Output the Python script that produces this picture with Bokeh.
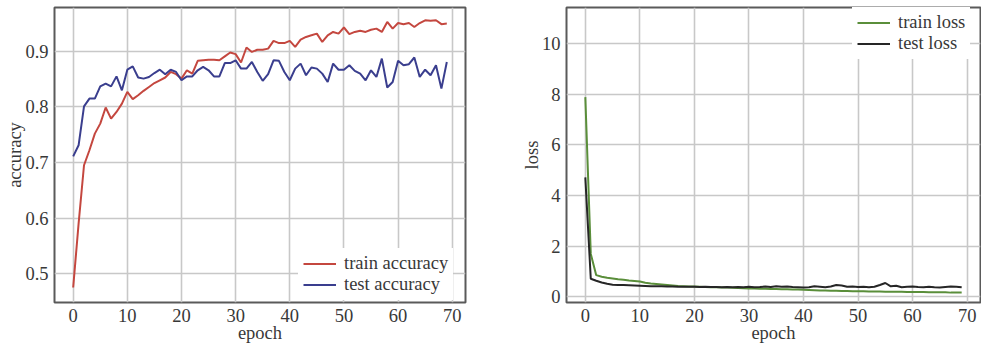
from bokeh.plotting import figure
from bokeh.layouts import row
from bokeh.models import Range1d, FixedTicker
from bokeh.embed import file_html
from bokeh.resources import INLINE

epochs = list(range(70))

train_acc = [0.475, 0.59, 0.695, 0.722, 0.752, 0.770, 0.799, 0.779, 0.791, 0.806,
             0.827, 0.814, 0.821, 0.829, 0.836, 0.843, 0.848, 0.853, 0.863, 0.859,
             0.851, 0.866, 0.860, 0.883, 0.884, 0.885, 0.885, 0.884, 0.891, 0.898,
             0.895, 0.880, 0.907, 0.899, 0.903, 0.903, 0.905, 0.919, 0.915, 0.915,
             0.919, 0.908, 0.921, 0.926, 0.929, 0.932, 0.917, 0.929, 0.935, 0.932,
             0.943, 0.931, 0.935, 0.937, 0.935, 0.939, 0.941, 0.935, 0.953, 0.941,
             0.951, 0.949, 0.951, 0.944, 0.951, 0.956, 0.955, 0.956, 0.949, 0.950]

test_acc = [0.711, 0.731, 0.801, 0.815, 0.815, 0.837, 0.842, 0.837, 0.855, 0.830,
            0.867, 0.873, 0.853, 0.851, 0.854, 0.861, 0.867, 0.859, 0.867, 0.863,
            0.848, 0.855, 0.855, 0.866, 0.872, 0.866, 0.855, 0.855, 0.879, 0.879,
            0.884, 0.869, 0.869, 0.881, 0.863, 0.847, 0.859, 0.884, 0.883, 0.863,
            0.848, 0.869, 0.878, 0.857, 0.871, 0.869, 0.860, 0.845, 0.878, 0.867,
            0.867, 0.875, 0.865, 0.860, 0.848, 0.866, 0.854, 0.887, 0.835, 0.845,
            0.883, 0.875, 0.877, 0.889, 0.854, 0.867, 0.857, 0.875, 0.833, 0.881]

train_loss = [7.89, 1.70, 0.86, 0.80, 0.76, 0.73, 0.70, 0.68, 0.65, 0.63,
              0.61, 0.56, 0.53, 0.51, 0.49, 0.47, 0.45, 0.43, 0.42, 0.41,
              0.41, 0.40, 0.39, 0.38, 0.38, 0.37, 0.37, 0.36, 0.35, 0.34,
              0.33, 0.33, 0.32, 0.32, 0.31, 0.31, 0.30, 0.30, 0.29, 0.29,
              0.28, 0.27, 0.26, 0.25, 0.25, 0.24, 0.24, 0.23, 0.23, 0.22,
              0.22, 0.22, 0.21, 0.21, 0.21, 0.20, 0.20, 0.20, 0.20, 0.19,
              0.19, 0.19, 0.19, 0.18, 0.18, 0.18, 0.18, 0.17, 0.17, 0.17]

test_loss = [4.72, 0.72, 0.64, 0.57, 0.52, 0.48, 0.47, 0.47, 0.46, 0.45,
             0.44, 0.43, 0.42, 0.42, 0.42, 0.41, 0.41, 0.40, 0.40, 0.40,
             0.40, 0.39, 0.40, 0.39, 0.39, 0.38, 0.39, 0.38, 0.39, 0.38,
             0.40, 0.38, 0.39, 0.41, 0.39, 0.42, 0.40, 0.41, 0.39, 0.38,
             0.37, 0.38, 0.42, 0.40, 0.38, 0.41, 0.47, 0.45, 0.40, 0.41,
             0.39, 0.40, 0.38, 0.40, 0.47, 0.55, 0.42, 0.44, 0.38, 0.40,
             0.41, 0.39, 0.38, 0.40, 0.38, 0.37, 0.39, 0.41, 0.40, 0.38]

x_ticks = [0, 10, 20, 30, 40, 50, 60, 70]
acc_ticks = [0.5, 0.6, 0.7, 0.8, 0.9]
loss_ticks = [0, 2, 4, 6, 8, 10]

FONT = "Liberation Serif"
FS = "18.5px"
GRID = "#c8c8c8"
FRAME = "#5a5a5a"


def style(p, xlabel, ylabel, xt, yt):
    p.outline_line_color = FRAME
    p.outline_line_width = 2
    p.background_fill_color = "white"
    p.border_fill_color = "white"
    for g in (p.xgrid[0], p.ygrid[0]):
        g.grid_line_color = GRID
        g.grid_line_width = 1.6
    p.xaxis.ticker = FixedTicker(ticks=xt)
    p.yaxis.ticker = FixedTicker(ticks=yt)
    p.xgrid.ticker = FixedTicker(ticks=xt)
    p.ygrid.ticker = FixedTicker(ticks=yt)
    for ax in (p.xaxis[0], p.yaxis[0]):
        ax.axis_line_color = None
        ax.major_tick_line_color = None
        ax.minor_tick_line_color = None
        ax.major_tick_out = 0
        ax.major_tick_in = 0
        ax.major_label_text_font = FONT
        ax.major_label_text_font_size = FS
        ax.major_label_text_color = "#383838"
        ax.axis_label_text_font = FONT
        ax.axis_label_text_font_size = FS
        ax.axis_label_text_font_style = "normal"
        ax.axis_label_text_color = "#383838"
    p.xaxis.axis_label = xlabel
    p.yaxis.axis_label = ylabel
    p.xaxis.major_label_standoff = 6
    p.xaxis.axis_label_standoff = -2
    p.yaxis.major_label_standoff = 6
    p.yaxis.axis_label_standoff = -3


def style_legend(p, loc):
    lg = p.legend[0]
    lg.location = loc
    lg.label_text_font = FONT
    lg.label_text_font_size = FS
    lg.label_text_color = "#383838"
    lg.glyph_width = 33
    lg.glyph_height = 21
    lg.label_height = 21
    lg.label_standoff = 8
    lg.spacing = 0
    lg.padding = 5
    lg.margin = 0
    lg.border_line_alpha = 0
    lg.background_fill_color = "white"
    lg.background_fill_alpha = 1.0


p1 = figure(width=490, height=345, output_backend="svg", toolbar_location=None,
            x_range=Range1d(-3.45, 72.45), y_range=Range1d(0.448, 0.979),
            min_border_left=54, min_border_right=25, min_border_top=7, min_border_bottom=43)
p1.line(epochs, train_acc, line_color="#c4473f", line_width=2, legend_label="train accuracy")
p1.line(epochs, test_acc, line_color="#3a3e8e", line_width=2, legend_label="test accuracy")
style(p1, "epoch", "accuracy", x_ticks, acc_ticks)
style_legend(p1, (244, 2))

p2 = figure(width=491, height=345, output_backend="svg", toolbar_location=None,
            x_range=Range1d(-3.45, 72.45), y_range=Range1d(-0.22, 11.43),
            min_border_left=76, min_border_right=1, min_border_top=7, min_border_bottom=43)
p2.line(epochs, train_loss, line_color="#5a8e3a", line_width=2, legend_label="train loss")
p2.line(epochs, test_loss, line_color="#262626", line_width=2, legend_label="test loss")
style(p2, "epoch", "loss", x_ticks, loss_ticks)
style_legend(p2, (286, 243))

layout = row(p1, p2)
open("out.html", "w").write(file_html(layout, INLINE))
